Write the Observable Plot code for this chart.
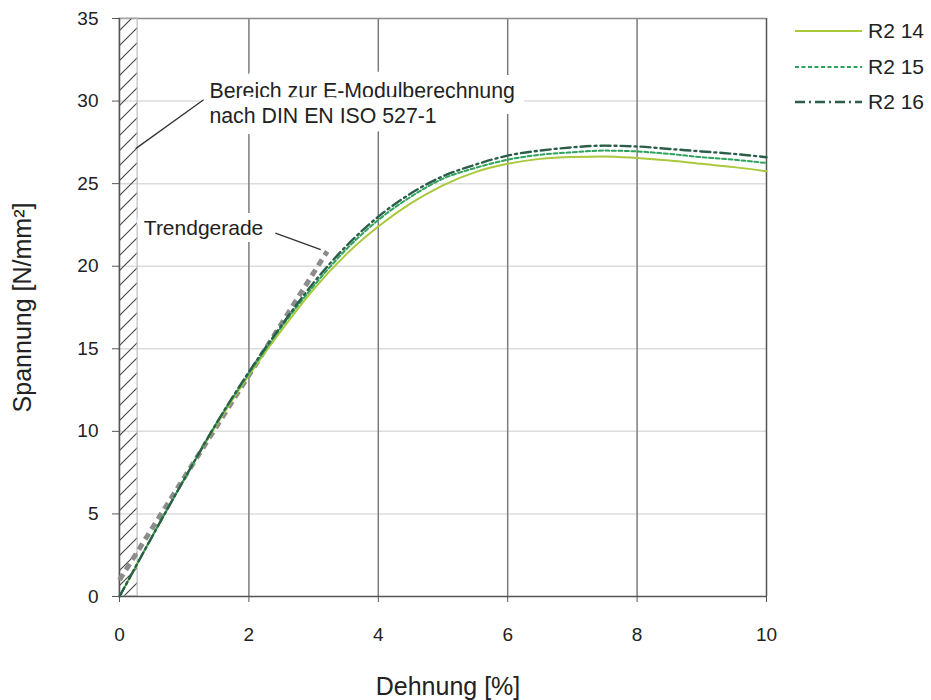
<!DOCTYPE html>
<html><head><meta charset="utf-8">
<script src="https://cdn.jsdelivr.net/npm/d3@7"></script>
<script src="https://cdn.jsdelivr.net/npm/@observablehq/plot@0.6"></script>
<style>
body{margin:0;background:#fff;font-family:"Liberation Sans",Arial,sans-serif}
#wrap{position:relative;width:931px;height:700px;overflow:hidden}
#legend{position:absolute;left:795px;top:0;font-size:21px;color:#222}
#legend .row{position:absolute;left:0;height:30px;display:flex;align-items:center;white-space:nowrap}
#legend svg{margin-right:6px}
</style></head><body><div id="wrap"><div id="legend"></div></div>
<script>
// Data
const strain = [0,0.5,1,1.5,2,2.5,3,3.5,4,4.5,5,5.5,6,6.5,7,7.5,8,8.5,9,9.5,10];
const r214 = [0,3.6,7.1,10.4,13.4,16.1,18.6,20.7,22.4,23.8,24.9,25.7,26.2,26.5,26.62,26.65,26.55,26.4,26.2,26.0,25.75];
const r215 = [0,3.6,7.1,10.5,13.5,16.3,18.8,21.0,22.8,24.2,25.3,25.95,26.45,26.75,26.9,27.0,26.95,26.8,26.6,26.45,26.25];
const r216 = [0,3.6,7.1,10.5,13.6,16.4,19.0,21.2,23.0,24.4,25.45,26.15,26.7,27.0,27.2,27.3,27.25,27.1,26.95,26.8,26.6];
const seriesNames = ["R2 14","R2 15","R2 16"];
const seriesColors = ["#a9c83c","#2da35c","#2c5f4a"];
const seriesDash = ["none","4,2.5","10,4,2,4"];
const seriesWidth = [2,2,2.4];
const trendX = [0,3.21];
const trendY = [1.0,20.9];
const hatchX = [0,0.28];
const xTicks = [0,2,4,6,8,10];
const yTicks = [0,5,10,15,20,25,30,35];
const xLabel = "Dehnung [%]";
const yLabel = "Spannung [N/mm²]";
const noteDin = {x:1.39, y:29.9, text:"Bereich zur E-Modulberechnung\nnach DIN EN ISO 527-1"};
const noteTrend = {x:0.376, y:22.3, text:"Trendgerade"};
const leaderDin = {x1:1.30, y1:30.08, x2:0.25, y2:27.12};
const leaderTrend = {x1:2.41, y1:22.0, x2:3.11, y2:21.0};

const allSeries = [r214, r215, r216];
const curves = seriesNames.map((name, i) => strain.map((s, j) => ({x:s, y:allSeries[i][j], name})));
const trend = trendX.map((x, i) => ({x, y:trendY[i]}));

const chart = Plot.plot({
  width: 931, height: 700,
  marginLeft: 119, marginRight: 165, marginTop: 18, marginBottom: 104,
  style: {fontFamily: "Liberation Sans, Arial, sans-serif", color: "#222", background: "#fff"},
  x: {domain: [0, 10]},
  y: {domain: [0, 35]},
  marks: [
    Plot.gridY(yTicks.slice(1, -1), {stroke: "#dcdcdc", strokeOpacity: 1, strokeWidth: 1.5}),
    Plot.gridX(xTicks.slice(1, -1), {stroke: "#7c7c7c", strokeOpacity: 1, strokeWidth: 1.5}),
    Plot.ruleX([xTicks[xTicks.length - 1]], {stroke: "#555", strokeWidth: 1.5}),
    Plot.ruleY([yTicks[yTicks.length - 1]], {stroke: "#8a8a8a", strokeWidth: 1.5}),
    Plot.rect([{x1: hatchX[0], x2: hatchX[1]}], {x1: "x1", x2: "x2", y1: () => yTicks[0], y2: () => yTicks[yTicks.length - 1], fill: "url(#hatch)", stroke: "#bdbdbd", strokeWidth: 1.2}),
    Plot.text([noteDin], {x: "x", y: "y", text: "text", textAnchor: "start", lineAnchor: "middle", lineHeight: 1.15, fontSize: 21.3, fill: "#222", stroke: "white", strokeWidth: 22, strokeLinejoin: "round"}),
    Plot.text([noteTrend], {x: "x", y: "y", text: "text", textAnchor: "start", lineAnchor: "middle", fontSize: 21, fill: "#222", stroke: "white", strokeWidth: 14, strokeLinejoin: "round"}),
    Plot.link([leaderDin, leaderTrend], {x1: "x1", y1: "y1", x2: "x2", y2: "y2", stroke: "#333", strokeWidth: 1.3}),
    Plot.ruleX([xTicks[0]], {stroke: "#555", strokeWidth: 1.5}),
    Plot.ruleY([yTicks[0]], {stroke: "#555", strokeWidth: 1.5}),
    Plot.line(trend, {x: "x", y: "y", stroke: "#8c8c8c", strokeWidth: 5, strokeDasharray: "7,5", strokeLinecap: "butt"}),
    ...curves.map((c, i) => Plot.line(c, {x: "x", y: "y", stroke: seriesColors[i], strokeWidth: seriesWidth[i], strokeDasharray: seriesDash[i], curve: "monotone-x"})),
    Plot.axisX(xTicks, {tickSize: 6, tickPadding: 25, fontSize: 19, label: null, stroke: "#555"}),
    Plot.axisY(yTicks, {tickSize: 7, tickPadding: 14, fontSize: 19, label: null, stroke: "#555"}),
    Plot.text([xLabel], {text: d => d, frameAnchor: "bottom", textAnchor: "middle", lineAnchor: "middle", dy: 90, dx: 5, fontSize: 25, fill: "#222"}),
    Plot.text([yLabel], {text: d => d, frameAnchor: "left", textAnchor: "middle", lineAnchor: "middle", dx: -97, rotate: -90, fontSize: 25, fill: "#222"})
  ]
});

const svg = d3.select(chart);
const pat = svg.insert("defs", ":first-child").append("pattern")
  .attr("id", "hatch").attr("patternUnits", "userSpaceOnUse")
  .attr("width", 15).attr("height", 15);
pat.append("path").attr("d", "M0,15 L15,0 M-2,2 L2,-2 M13,17 L17,13")
  .attr("stroke", "#444").attr("stroke-width", 1.1).attr("fill", "none");

document.getElementById("wrap").prepend(chart);
chart.style.position = "absolute"; chart.style.left = "0"; chart.style.top = "0";

const legend = document.getElementById("legend");
const rowY = [31, 67, 102];
seriesNames.forEach((name, i) => {
  const row = document.createElement("div");
  row.className = "row";
  row.style.top = (rowY[i] - 15) + "px";
  row.innerHTML = `<svg width="67" height="10"><line x1="0" x2="67" y1="5" y2="5" stroke="${seriesColors[i]}" stroke-width="${seriesWidth[i]}" stroke-dasharray="${seriesDash[i]}"/></svg><span>${name}</span>`;
  legend.appendChild(row);
});
</script>
</body></html>
